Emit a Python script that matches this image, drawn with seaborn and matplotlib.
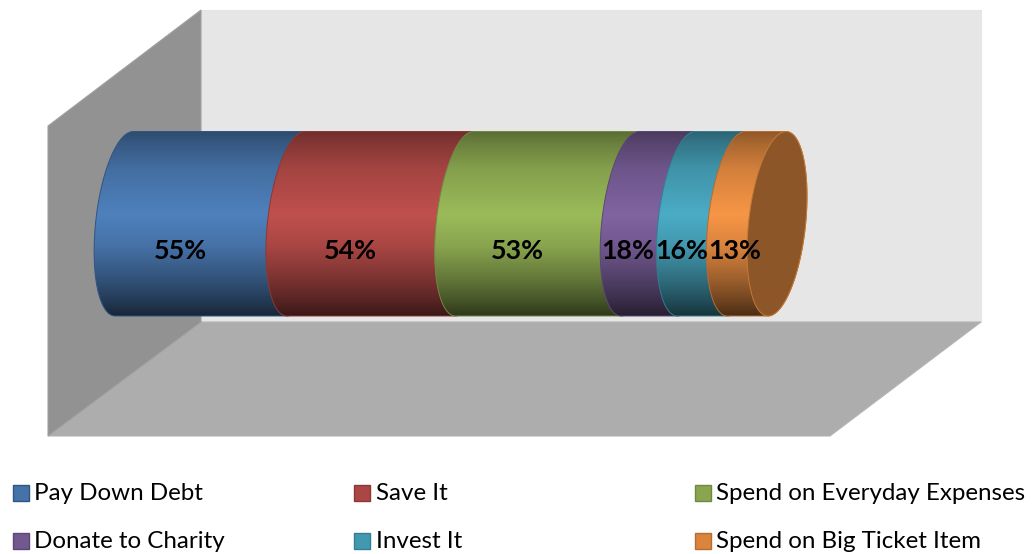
import numpy as np
import pandas as pd
import matplotlib
matplotlib.use("Agg")
import matplotlib.pyplot as plt
from matplotlib.patches import PathPatch, Polygon, Rectangle
from matplotlib.path import Path
from matplotlib.colors import to_rgb
import seaborn as sns

# Survey answers, stacked along one cylinder
categories = ["Pay Down Debt", "Save It", "Spend on Everyday Expenses",
              "Donate to Charity", "Invest It", "Spend on Big Ticket Item"]
shares = [55, 54, 53, 18, 16, 13]
face_colors = ["#4F81BD", "#C0504D", "#9BBB59", "#8064A2", "#4BACC6", "#F79646"]
edge_colors = ["#2F5582", "#8C3836", "#71893F", "#5C4776", "#357D91", "#B66D31"]
legend_fills = ["#4572A7", "#AA4643", "#89A54E", "#71588F", "#4198AF", "#DB843D"]
label_nudges = [-1, -1, -2, -2, -1, 7]

W, H = 1032, 554
sns.set_theme(style="white")
plt.rcParams["font.family"] = ["Lato", "DejaVu Sans"]

fig = plt.figure(figsize=(W / 100, H / 100), dpi=100, facecolor="white")
ax = fig.add_axes([0, 0, 1, 1])

# Pixel layout of the drawing
PX_PER_UNIT = 3.124
X0 = 95.5
Y_TOP, Y_BOT = 131.5, 316.0
Y_MID = (Y_TOP + Y_BOT) / 2
BAR_PX = Y_BOT - Y_TOP
RX_PX, SHEAR_PX = 28.6, 9.0


def px(points):
    """Figure pixels (origin top-left) to display coordinates."""
    return [(x, H - y) for x, y in points]


# Walls and floor of the 3-D plot box
def wall(points, color, edge):
    fig.add_artist(Polygon(px(points), closed=True, facecolor=color, edgecolor=edge,
                           linewidth=0.8, transform=None, zorder=-5))


wall([(201, 10), (981, 10), (981, 322), (201, 322)], "#E6E6E6", "#E6E6E6")
wall([(201, 322), (981, 322), (830, 436), (48, 436)], "#ADADAD", "#B4B4B4")
wall([(201, 10), (201, 322), (48, 436), (48, 126)], "#929292", "#A0A0A0")
ax.patch.set_alpha(0)

# Data scale: value 0 sits at the left extreme of the cylinder
rx_units = RX_PX / PX_PER_UNIT

# Vertical shading of the cylinder body (multiplier on the base colour)
stops = [0.0, 0.06, 0.2, 0.45, 0.62, 0.8, 0.92, 1.0]
gains = [0.58, 0.68, 0.85, 1.0, 0.88, 0.64, 0.45, 0.30]
fractions = np.linspace(0, 1, 256)
shade = np.interp(fractions, stops, gains)


def body_path(start, stop):
    """Cylinder section: bulging left end at start, bulging right end at stop."""
    t_left = np.linspace(np.pi / 2, 3 * np.pi / 2, 60)
    t_right = np.linspace(-np.pi / 2, np.pi / 2, 60)
    lean = SHEAR_PX / PX_PER_UNIT

    def arc(centre, t):
        # t=+pi/2 is the top of the ellipse, leaning to the right
        x = centre + rx_units * np.cos(t) + lean * np.sin(t)
        y = -0.5 * np.sin(t)
        return np.column_stack([x, y])

    left = arc(start + rx_units, t_left)
    right = arc(stop + rx_units, t_right)
    return Path(np.vstack([left, right, left[:1]]))


starts = np.concatenate([[0], np.cumsum(shares)[:-1]])
frame = pd.DataFrame({"question": categories, "share": shares, "start": starts})

for row, face, edge in zip(frame.itertuples(), face_colors, edge_colors):
    sns.barplot(x=[row.share], y=[0], orient="y", native_scale=True, width=1.0,
                left=row.start + rx_units, color=face, saturation=1, ax=ax)
    bar = ax.patches[-1]
    outline = PathPatch(body_path(row.start, row.start + row.share), facecolor="none",
                        edgecolor=edge, linewidth=0.7, transform=ax.transData)
    ax.add_patch(outline)
    bar.set_clip_path(outline)
    base = np.array(to_rgb(face))
    gradient = np.clip(shade[:, None, None] * base[None, None, :], 0, 1)
    image = ax.imshow(gradient, aspect="auto", interpolation="bilinear",
                      extent=(row.start - 3, row.start + row.share + 2 * rx_units + 3, 0.5, -0.5))
    image.set_clip_path(outline)
    # Later sections paint over earlier ones
    base_z = 2 + 3 * row.Index
    bar.set_zorder(base_z)
    image.set_zorder(base_z + 1)
    outline.set_zorder(base_z + 2)

# Flat end cap at the far end of the stack
total = sum(shares)
theta = np.linspace(0, 2 * np.pi, 200)
cap_x = total + rx_units + rx_units * np.cos(theta) + (SHEAR_PX / PX_PER_UNIT) * np.sin(theta)
cap_y = -0.5 * np.sin(theta)
ax.fill(cap_x, cap_y, facecolor="#8C5628", edgecolor="#C47A37", linewidth=0.7, zorder=30)

# Value labels, centred on each section's own width
for row, nudge in zip(frame.itertuples(), label_nudges):
    ax.text(row.start + row.share / 2 + nudge / PX_PER_UNIT, 0.145, f"{row.share}%",
            ha="center", va="center", fontsize=19.3, fontweight="bold", color="black", zorder=40)

ax.set_xlim(-X0 / PX_PER_UNIT, (W - X0) / PX_PER_UNIT)
ax.set_ylim((H - Y_MID) / BAR_PX, -Y_MID / BAR_PX)
ax.set_axis_off()

# Legend laid out in two rows of three columns
col_x = [13, 354, 695]
row_y = [493, 541]
for i, (name, fill, edge) in enumerate(zip(categories, legend_fills, edge_colors)):
    cx, cy = col_x[i % 3], row_y[i // 3]
    fig.add_artist(Rectangle((cx, H - cy - 8), 16, 16, facecolor=fill, edgecolor=edge,
                             linewidth=1.0, transform=None))
    fig.text((cx + 21.5) / W, 1 - (cy + 0.7) / H, name, ha="left", va="center",
             fontsize=17.4, color="black")

fig.savefig("out.png", dpi=100, facecolor="white")
